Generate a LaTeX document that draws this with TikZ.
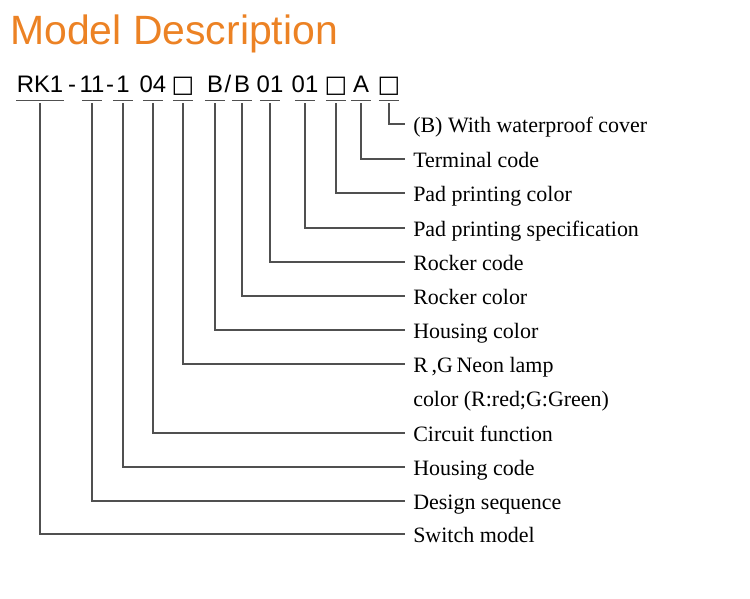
\documentclass[tikz,border=0pt]{standalone}
\usepackage{fontspec}
\setmainfont{Liberation Serif}
\newfontfamily\arialfont{Liberation Sans}
\newfontfamily\symfont{DejaVu Sans}
\usetikzlibrary{positioning}

\definecolor{titleorange}{RGB}{236,130,36}
\definecolor{leadgray}{RGB}{80,80,80}

\newcommand{\blankbox}{{\symfont □}}

\begin{document}
\begin{tikzpicture}[
    x=0.02cm, y=-0.02cm,
    title/.style={font=\arialfont\fontsize{23.3}{27}\selectfont, text=titleorange,
                  anchor=base west, inner sep=0pt},
    code/.style={font=\arialfont\fontsize{13.6}{16}\selectfont, anchor=base,
                 inner xsep=0pt, inner ysep=0pt, text depth=0pt, text height=10pt},
    part/.style={code, text depth=6.2pt},
    lbl/.style={font=\fontsize{12.5}{15}\selectfont, anchor=west,
                inner xsep=4.5pt, inner ysep=0pt, text height=12pt, text depth=1.8pt},
    lead/.style={draw=leadgray, line width=0.7pt}
  ]
    \useasboundingbox (0,0) rectangle (750,598);

    % Title
    \node[title] (title) at (10,45) {Model Description};

    % Model code
    \node[part] (rk) at (40,92) {RK1};
    \node[code] (dash1) at (72,92) {-};
    \node[part] (seq) at (92,92) {11};
    \node[code] (dash2) at (110,92) {-};
    \node[part] (hcode) at (123,92) {1};
    \node[part] (circ) at (153,92) {04};
    \node[part] (lamp) at (183,92) {\blankbox};
    \node[part] (hcol) at (215,92) {B};
    \node[code] (slash) at (228,92) {/};
    \node[part] (rcol) at (242,92) {B};
    \node[part] (rcode) at (270,92) {01};
    \node[part] (pspec) at (305,92) {01};
    \node[part] (pcol) at (336,92) {\blankbox};
    \node[part] (term) at (361,92) {A};
    \node[part] (cover) at (389,92) {\blankbox};

    % Underlines
    \draw[lead] ([yshift=1.7pt]rk.south west) -- ([yshift=1.7pt]rk.south east);
    \foreach \p in {seq, hcode, circ, lamp, hcol, rcol, rcode, pspec, pcol, term, cover}
      \draw[lead] ([xshift=-5.7pt, yshift=1.7pt]\p.south) -- ([xshift=5.7pt, yshift=1.7pt]\p.south);

    % Labels
    \node[lbl] (l-cover) at (405,124) {(B) With waterproof cover};
    \node[lbl] (l-term) at (405,159) {Terminal code};
    \node[lbl] (l-pcol) at (405,193) {Pad printing color};
    \node[lbl] (l-pspec) at (405,228) {Pad printing specification};
    \node[lbl] (l-rcode) at (405,262) {Rocker code};
    \node[lbl] (l-rcol) at (405,296) {Rocker color};
    \node[lbl] (l-hcol) at (405,330) {Housing color};
    \node[lbl] (l-lamp) at (405,364) {R\,,G\,Neon lamp};
    \node[lbl] (l-lamp2) at (405,398) {color (R:red;G:Green)};
    \node[lbl] (l-circ) at (405,433) {Circuit function};
    \node[lbl] (l-hcode) at (405,467) {Housing code};
    \node[lbl] (l-seq) at (405,501) {Design sequence};
    \node[lbl] (l-rk) at (405,534) {Switch model};

    % Leads
    \draw[lead] (cover.south) |- (l-cover);
    \draw[lead] (term.south) |- (l-term);
    \draw[lead] (pcol.south) |- (l-pcol);
    \draw[lead] (pspec.south) |- (l-pspec);
    \draw[lead] (rcode.south) |- (l-rcode);
    \draw[lead] (rcol.south) |- (l-rcol);
    \draw[lead] (hcol.south) |- (l-hcol);
    \draw[lead] (lamp.south) |- (l-lamp);
    \draw[lead] (circ.south) |- (l-circ);
    \draw[lead] (hcode.south) |- (l-hcode);
    \draw[lead] (seq.south) |- (l-seq);
    \draw[lead] (rk.south) |- (l-rk);

\end{tikzpicture}
\end{document}
